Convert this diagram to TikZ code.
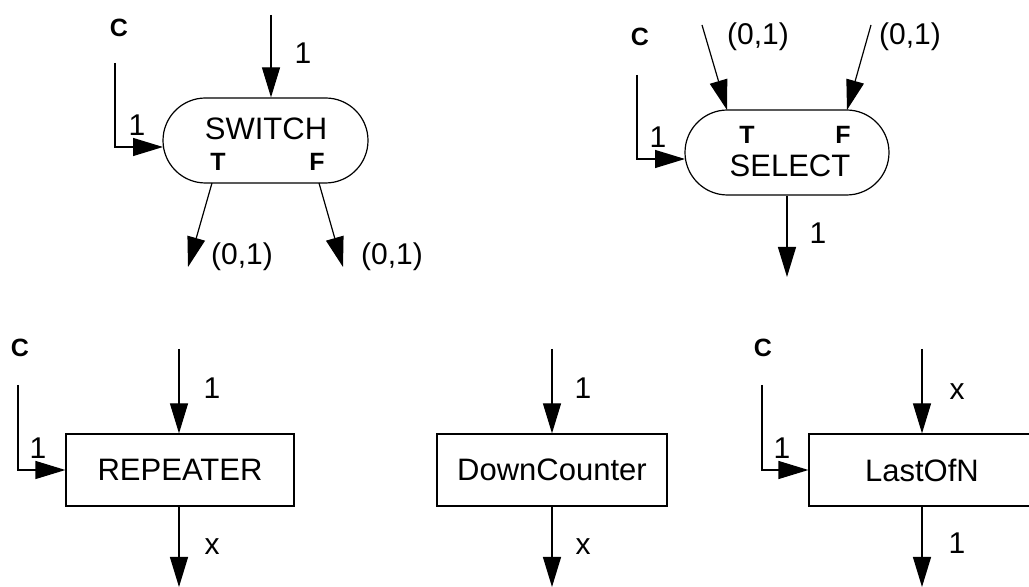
\documentclass[tikz,border=0pt]{standalone}
\usepackage{fontspec}
\setmainfont{Liberation Sans}
\usetikzlibrary{shapes.misc, arrows.meta, positioning}

\begin{document}
\begin{tikzpicture}[x=0.5pt, y=-0.5pt,
    stadium/.style={draw, line width=0.6pt, rounded rectangle, minimum width=102.5pt, minimum height=42.5pt, inner sep=0pt},
    blockbox/.style={draw, line width=0.6pt, rectangle, minimum width=114pt, minimum height=36pt, inner sep=0pt, font=\fontsize{15.5}{18}\selectfont},
    flow/.style={line width=0.6pt, -{Triangle[length=15pt, width=9pt]}},
    opname/.style={font=\fontsize{15.5}{18}\selectfont, inner sep=0pt},
    lbl/.style={font=\fontsize{15}{17}\selectfont, inner sep=0pt},
    port/.style={font=\fontsize{12.5}{14}\selectfont\bfseries, inner sep=0pt}
  ]
  \useasboundingbox (0,0) rectangle (1029,587);

  % SWITCH
  \node [stadium] (sw) at (265.5,140.5) {};
  \node [opname] (swname) at (266,129) {SWITCH};
  \node [port] (swT) at (218,162) {T};
  \node [port] (swF) at (317,162) {F};
  \node [port] (swC) at (119,28) {C};
  \coordinate (swin) at (271,15);
  \coordinate (swcin) at (115,63);
  \coordinate (swTo) at (212,183);
  \coordinate (swFo) at (319,183);
  \coordinate (swTe) at (188,267);
  \coordinate (swFe) at (343,267);
  \draw [flow] (swin) -- (swin |- sw.north);
  \draw [flow] (swcin) |- (163,147);
  \draw [flow] (swTo) -- (swTe);
  \draw [flow] (swFo) -- (swFe);
  \node [lbl] at (303,53) {1};
  \node [lbl] at (137,125) {1};
  \node [lbl] at (242,257) {(0,1)};
  \node [lbl] at (392,257) {(0,1)};

  % SELECT
  \node [stadium, minimum width=102pt] (sel) at (787,152.5) {};
  \node [opname] (selname) at (790,166) {SELECT};
  \node [port] (selT) at (747,135) {T};
  \node [port] (selF) at (843,135) {F};
  \node [port] (selC) at (640,37) {C};
  \coordinate (selTin) at (702,25);
  \coordinate (selFin) at (871,25);
  \coordinate (selTi) at (727,110);
  \coordinate (selFi) at (847,110);
  \coordinate (selcin) at (637,75);
  \coordinate (selout) at (787,277);
  \draw [flow] (selTin) -- (selTi);
  \draw [flow] (selFin) -- (selFi);
  \draw [flow] (selcin) |- (685,159);
  \draw [flow] (sel.south) -- (selout);
  \node [lbl] at (758,37) {(0,1)};
  \node [lbl] at (910,37) {(0,1)};
  \node [lbl] at (658,137) {1};
  \node [lbl] at (818,233) {1};

  % REPEATER
  \node [blockbox] (rep) at (180,470) {REPEATER};
  \node [port] (repC) at (20,348) {C};
  \coordinate (repin) at (179,349);
  \coordinate (repout) at (179,587);
  \coordinate (repcin) at (18,385);
  \draw [flow] (repin) -- (repin |- rep.north);
  \draw [flow] (repin |- rep.south) -- (repout);
  \draw [flow] (repcin) |- (rep.west);
  \node [lbl] at (212,388) {1};
  \node [lbl] at (212,547) {x};
  \node [lbl] at (38,448) {1};

  % DownCounter
  \node [blockbox, minimum width=115pt] (dc) at (552,470) {DownCounter};
  \coordinate (dcin) at (552,349);
  \coordinate (dcout) at (552,587);
  \draw [flow] (dcin) -- (dc.north);
  \draw [flow] (dc.south) -- (dcout);
  \node [lbl] at (583,388) {1};
  \node [lbl] at (583,547) {x};

  % LastOfN
  \node [blockbox, minimum width=113pt] (lon) at (922,470) {LastOfN};
  \node [port] (lonC) at (763,348) {C};
  \coordinate (lonin) at (922,349);
  \coordinate (lonout) at (922,587);
  \coordinate (loncin) at (762,385);
  \draw [flow] (lonin) -- (lon.north);
  \draw [flow] (lon.south) -- (lonout);
  \draw [flow] (loncin) |- (lon.west);
  \node [lbl] at (957,392) {x};
  \node [lbl] at (957,543) {1};
  \node [lbl] at (782,448) {1};
\end{tikzpicture}
\end{document}
